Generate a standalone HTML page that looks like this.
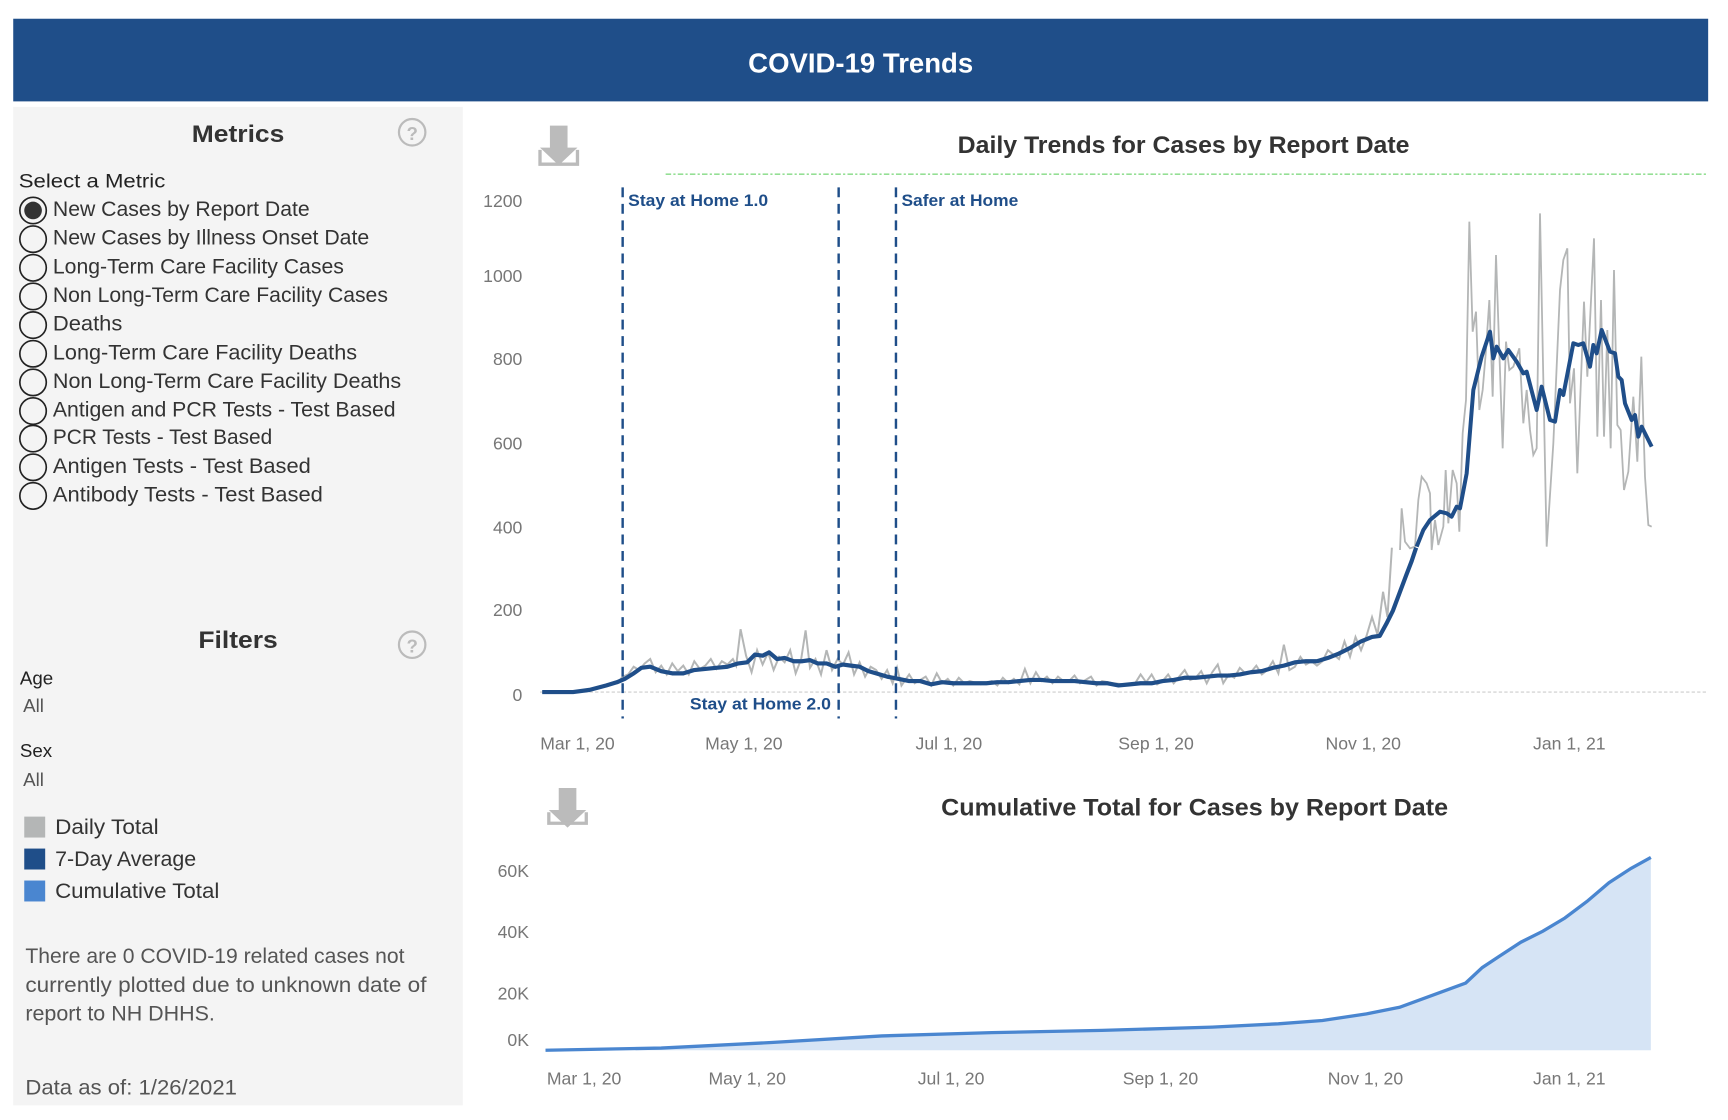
<!DOCTYPE html>
<html><head><meta charset="utf-8"><style>
html,body{margin:0;padding:0;background:#fff;}
svg{display:block;}
text{font-family:"Liberation Sans",sans-serif;}
</style></head><body>
<svg width="1728" height="1120" viewBox="0 0 1568 1016.3" xmlns="http://www.w3.org/2000/svg">
<rect width="1568" height="1017" fill="#fff"/>
<rect x="12" y="17" width="1538" height="75" fill="#1f4e89"/>
<text x="781" y="66" font-size="25" font-weight="bold" fill="#fff" text-anchor="middle">COVID-19 Trends</text>
<rect x="12" y="97" width="408" height="906" fill="#f4f4f4"/>
<text x="216" y="129" font-size="22" font-weight="bold" fill="#333" text-anchor="middle" textLength="84" lengthAdjust="spacingAndGlyphs">Metrics</text>
<circle cx="374" cy="120" r="12" fill="none" stroke="#bbb" stroke-width="2"/>
<text x="374" y="127" font-size="17" font-weight="bold" fill="#bbb" text-anchor="middle">?</text>
<text x="17" y="170" font-size="18" fill="#222" textLength="133" lengthAdjust="spacingAndGlyphs">Select a Metric</text>
<g font-size="19" fill="#333">
<circle cx="30" cy="191" r="12" fill="none" stroke="#222" stroke-width="1.5"/><circle cx="30" cy="191" r="8" fill="#333"/>
<text x="48" y="196" textLength="233" lengthAdjust="spacingAndGlyphs">New Cases by Report Date</text>
<circle cx="30" cy="217" r="12" fill="none" stroke="#222" stroke-width="1.5"/>
<text x="48" y="222" textLength="287" lengthAdjust="spacingAndGlyphs">New Cases by Illness Onset Date</text>
<circle cx="30" cy="243" r="12" fill="none" stroke="#222" stroke-width="1.5"/>
<text x="48" y="248" textLength="264" lengthAdjust="spacingAndGlyphs">Long-Term Care Facility Cases</text>
<circle cx="30" cy="269" r="12" fill="none" stroke="#222" stroke-width="1.5"/>
<text x="48" y="274" textLength="304" lengthAdjust="spacingAndGlyphs">Non Long-Term Care Facility Cases</text>
<circle cx="30" cy="295" r="12" fill="none" stroke="#222" stroke-width="1.5"/>
<text x="48" y="300" textLength="63" lengthAdjust="spacingAndGlyphs">Deaths</text>
<circle cx="30" cy="321" r="12" fill="none" stroke="#222" stroke-width="1.5"/>
<text x="48" y="326" textLength="276" lengthAdjust="spacingAndGlyphs">Long-Term Care Facility Deaths</text>
<circle cx="30" cy="347" r="12" fill="none" stroke="#222" stroke-width="1.5"/>
<text x="48" y="352" textLength="316" lengthAdjust="spacingAndGlyphs">Non Long-Term Care Facility Deaths</text>
<circle cx="30" cy="373" r="12" fill="none" stroke="#222" stroke-width="1.5"/>
<text x="48" y="378" textLength="311" lengthAdjust="spacingAndGlyphs">Antigen and PCR Tests - Test Based</text>
<circle cx="30" cy="398" r="12" fill="none" stroke="#222" stroke-width="1.5"/>
<text x="48" y="403" textLength="199" lengthAdjust="spacingAndGlyphs">PCR Tests - Test Based</text>
<circle cx="30" cy="424" r="12" fill="none" stroke="#222" stroke-width="1.5"/>
<text x="48" y="429" textLength="234" lengthAdjust="spacingAndGlyphs">Antigen Tests - Test Based</text>
<circle cx="30" cy="450" r="12" fill="none" stroke="#222" stroke-width="1.5"/>
<text x="48" y="455" textLength="245" lengthAdjust="spacingAndGlyphs">Antibody Tests - Test Based</text>
</g>
<text x="216" y="588" font-size="22" font-weight="bold" fill="#333" text-anchor="middle" textLength="72" lengthAdjust="spacingAndGlyphs">Filters</text>
<circle cx="374" cy="585" r="12" fill="none" stroke="#bbb" stroke-width="2"/>
<text x="374" y="592" font-size="17" font-weight="bold" fill="#bbb" text-anchor="middle">?</text>
<text x="18" y="621" font-size="17" fill="#222">Age</text>
<text x="21" y="646" font-size="17" fill="#555">All</text>
<text x="18" y="687" font-size="17" fill="#222">Sex</text>
<text x="21" y="713" font-size="17" fill="#555">All</text>
<rect x="22" y="741" width="19" height="19" fill="#b4b6b6"/>
<rect x="22" y="770" width="19" height="19" fill="#1f4e89"/>
<rect x="22" y="799" width="19" height="19" fill="#4a86d0"/>
<g font-size="19" fill="#333">
<text x="50" y="757" textLength="94" lengthAdjust="spacingAndGlyphs">Daily Total</text>
<text x="50" y="786" textLength="128" lengthAdjust="spacingAndGlyphs">7-Day Average</text>
<text x="50" y="815" textLength="149" lengthAdjust="spacingAndGlyphs">Cumulative Total</text>
</g>
<g font-size="19" fill="#555">
<text x="23" y="874" textLength="344" lengthAdjust="spacingAndGlyphs">There are 0 COVID-19 related cases not</text>
<text x="23" y="900" textLength="364" lengthAdjust="spacingAndGlyphs">currently plotted due to unknown date of</text>
<text x="23" y="926" textLength="172" lengthAdjust="spacingAndGlyphs">report to NH DHHS.</text>
<text x="23" y="993" textLength="192" lengthAdjust="spacingAndGlyphs">Data as of: 1/26/2021</text>
</g>

<path d="M499,114 h16 v20 h9 l-17,16 l-17,-16 h9z" fill="#bbb"/>
<path d="M490,136 v13 h34 v-13" fill="none" stroke="#bbb" stroke-width="3"/>
<text x="1074" y="139" font-size="22" font-weight="bold" fill="#333" text-anchor="middle" textLength="410" lengthAdjust="spacingAndGlyphs">Daily Trends for Cases by Report Date</text>
<line x1="604" y1="158" x2="1548" y2="158" stroke="#5c5" stroke-width="1" stroke-dasharray="5,2,2,2"/>
<g font-size="16" fill="#777" text-anchor="end">
<text x="474" y="188">1200</text><text x="474" y="256">1000</text><text x="474" y="331">800</text>
<text x="474" y="408">600</text><text x="474" y="484">400</text><text x="474" y="559">200</text><text x="474" y="636">0</text>
</g>
<line x1="490" y1="628" x2="1548" y2="628" stroke="#ccc" stroke-width="1" stroke-dasharray="3,2"/>
<g font-size="16" fill="#777" text-anchor="middle">
<text x="524" y="680">Mar 1, 20</text><text x="675" y="680">May 1, 20</text><text x="861" y="680">Jul 1, 20</text>
<text x="1049" y="680">Sep 1, 20</text><text x="1237" y="680">Nov 1, 20</text><text x="1424" y="680">Jan 1, 21</text>
</g>
<polyline fill="none" stroke="#b4b6b6" stroke-width="1.8" points="
492,628 510,628 525,627 535,626 545,624 553,621 560,620 565,614 570,612 575,605 580,608 585,602 590,598 595,610 600,604 605,612 610,602 615,609 620,604 625,612 630,600 635,607 640,604 645,598 650,607 655,600 660,603 665,598 668,604 672,571 677,595 682,610 687,590 692,603 697,592 702,608 707,596 712,601 717,590 722,611 727,598 731,572 735,606 740,598 745,612 750,590 755,608 760,598 765,603 770,592 775,612 780,601 785,614 790,605 795,608 800,616 805,608 810,620 814,606 818,622 825,612 830,620 835,617 840,614 845,622 850,611 855,620 860,616 865,622 870,615 875,620 880,618 890,621 900,618 905,622 910,615 915,620 920,616 925,621 930,607 935,620 940,610 945,618 950,614 955,620 960,614 965,618 970,618 975,613 980,620 985,617 990,614 995,622 1000,618 1010,620 1020,621 1030,620 1035,612 1040,619 1045,612 1050,621 1055,618 1060,612 1065,620 1070,614 1075,608 1080,617 1085,615 1090,609 1095,620 1100,610 1105,603 1110,620 1115,612 1120,615 1125,606 1130,611 1135,610 1140,604 1145,612 1150,608 1155,600 1160,611 1165,585 1170,608 1175,605 1180,596 1185,603 1190,600 1195,604 1200,600 1205,590 1210,594 1215,598 1220,582 1225,596 1230,578 1235,590 1240,577 1245,560 1250,576 1255,537 1259,560 1263,497"/>
<line x1="565" y1="170" x2="565" y2="652" stroke="#1f4e89" stroke-width="2.2" stroke-dasharray="9,6"/>
<line x1="761" y1="170" x2="761" y2="652" stroke="#1f4e89" stroke-width="2.2" stroke-dasharray="9,6"/>
<line x1="813" y1="170" x2="813" y2="652" stroke="#1f4e89" stroke-width="2.2" stroke-dasharray="9,6"/>
<g font-size="15" font-weight="bold" fill="#1f4e89">
<text x="570" y="187" textLength="127" lengthAdjust="spacingAndGlyphs">Stay at Home 1.0</text>
<text x="818" y="187" textLength="106" lengthAdjust="spacingAndGlyphs">Safer at Home</text>
<text x="626" y="644" textLength="128" lengthAdjust="spacingAndGlyphs">Stay at Home 2.0</text>
</g>
<g transform="scale(0.90741) translate(1300,150) scale(0.33333)">
<polyline fill="none" stroke="#b4b6b6" stroke-width="5.4" points="300,1200 305,1075 315,1175 330,1195 345,1190 355,1050 365,980 380,1000 390,1030 395,1200 405,1110 415,1185 430,1130 437,960 445,1120 458,960 470,1000 478,1145 488,850 498,750 508,215 518,545 528,485 538,780 548,720 558,600 568,450 578,740 588,315 608,895 618,575 628,660 640,650 658,595 670,820 680,720 690,840 700,915 710,895 720,190 740,1190 760,880 780,420 790,330 802,295 810,760 822,655 832,970 852,455 862,680 882,265 892,860 903,450 912,860 922,540 932,895 942,360 952,825 962,840 972,1020 985,965 1000,740 1012,935 1024,620 1035,980 1045,1125 1055,1130"/>
<polyline fill="none" stroke="#1f4e89" stroke-width="12" stroke-linejoin="round" points="350,1190 370,1140 390,1110 420,1085 440,1090 455,1100 470,1070 480,1075 500,970 520,720 545,620 570,545 580,625 590,590 610,625 625,600 650,635 670,670 680,665 710,780 725,710 750,810 765,815 780,720 790,735 820,580 835,585 850,580 870,650 880,585 890,610 905,540 930,605 945,610 955,680 965,690 975,760 995,810 1005,795 1015,860 1025,830 1055,890"/>
</g>
<polyline fill="none" stroke="#1f4e89" stroke-width="3.8" stroke-linejoin="round" points="
492,628 520,628 535,626 550,622 560,619 567,616 575,611 582,606 590,605 600,609 610,611 620,611 630,608 640,607 650,606 660,605 670,602 678,601 685,594 692,595 698,592 705,598 712,597 720,600 728,600 735,599 742,602 750,602 758,605 765,603 772,604 780,605 788,609 795,611 805,614 815,616 825,618 835,618 845,621 855,619 865,620 875,620 885,620 895,620 905,619 915,619 925,618 935,617 945,617 955,618 965,618 975,618 985,619 995,620 1005,620 1015,622 1025,621 1035,620 1045,620 1055,618 1065,617 1075,615 1085,615 1095,614 1105,613 1115,613 1125,612 1135,610 1145,609 1155,606 1165,604 1175,601 1185,600 1195,600 1205,597 1215,593 1225,588 1235,582 1245,578 1252,577 1258,566 1264,554 1270,538 1276,522 1281,509 1285,497"/>

<path d="M507,715 h16 v20 h9 l-17,16 l-17,-16 h9z" fill="#bbb"/>
<path d="M498,737 v10 h34 v-10" fill="none" stroke="#bbb" stroke-width="3"/>
<text x="1084" y="740" font-size="22" font-weight="bold" fill="#333" text-anchor="middle" textLength="460" lengthAdjust="spacingAndGlyphs">Cumulative Total for Cases by Report Date</text>
<g font-size="16" fill="#777" text-anchor="end">
<text x="480" y="796">60K</text><text x="480" y="851">40K</text><text x="480" y="907">20K</text><text x="480" y="949">0K</text>
</g>
<path d="M495,953 L600,951 700,946 800,940 900,937 1000,935 1100,932 1160,929 1200,926 1240,920 1270,914 1300,903 1330,892 1345,878 1360,868 1380,855 1400,845 1420,833 1440,818 1460,801 1480,788 1498,778 L1498,953 Z" fill="#d6e4f5"/>
<polyline fill="none" stroke="#4a86d0" stroke-width="3" points="495,953 600,951 700,946 800,940 900,937 1000,935 1100,932 1160,929 1200,926 1240,920 1270,914 1300,903 1330,892 1345,878 1360,868 1380,855 1400,845 1420,833 1440,818 1460,801 1480,788 1498,778"/>
<g font-size="16" fill="#777" text-anchor="middle">
<text x="530" y="984">Mar 1, 20</text><text x="678" y="984">May 1, 20</text><text x="863" y="984">Jul 1, 20</text>
<text x="1053" y="984">Sep 1, 20</text><text x="1239" y="984">Nov 1, 20</text><text x="1424" y="984">Jan 1, 21</text>
</g>
</svg>
</body></html>
